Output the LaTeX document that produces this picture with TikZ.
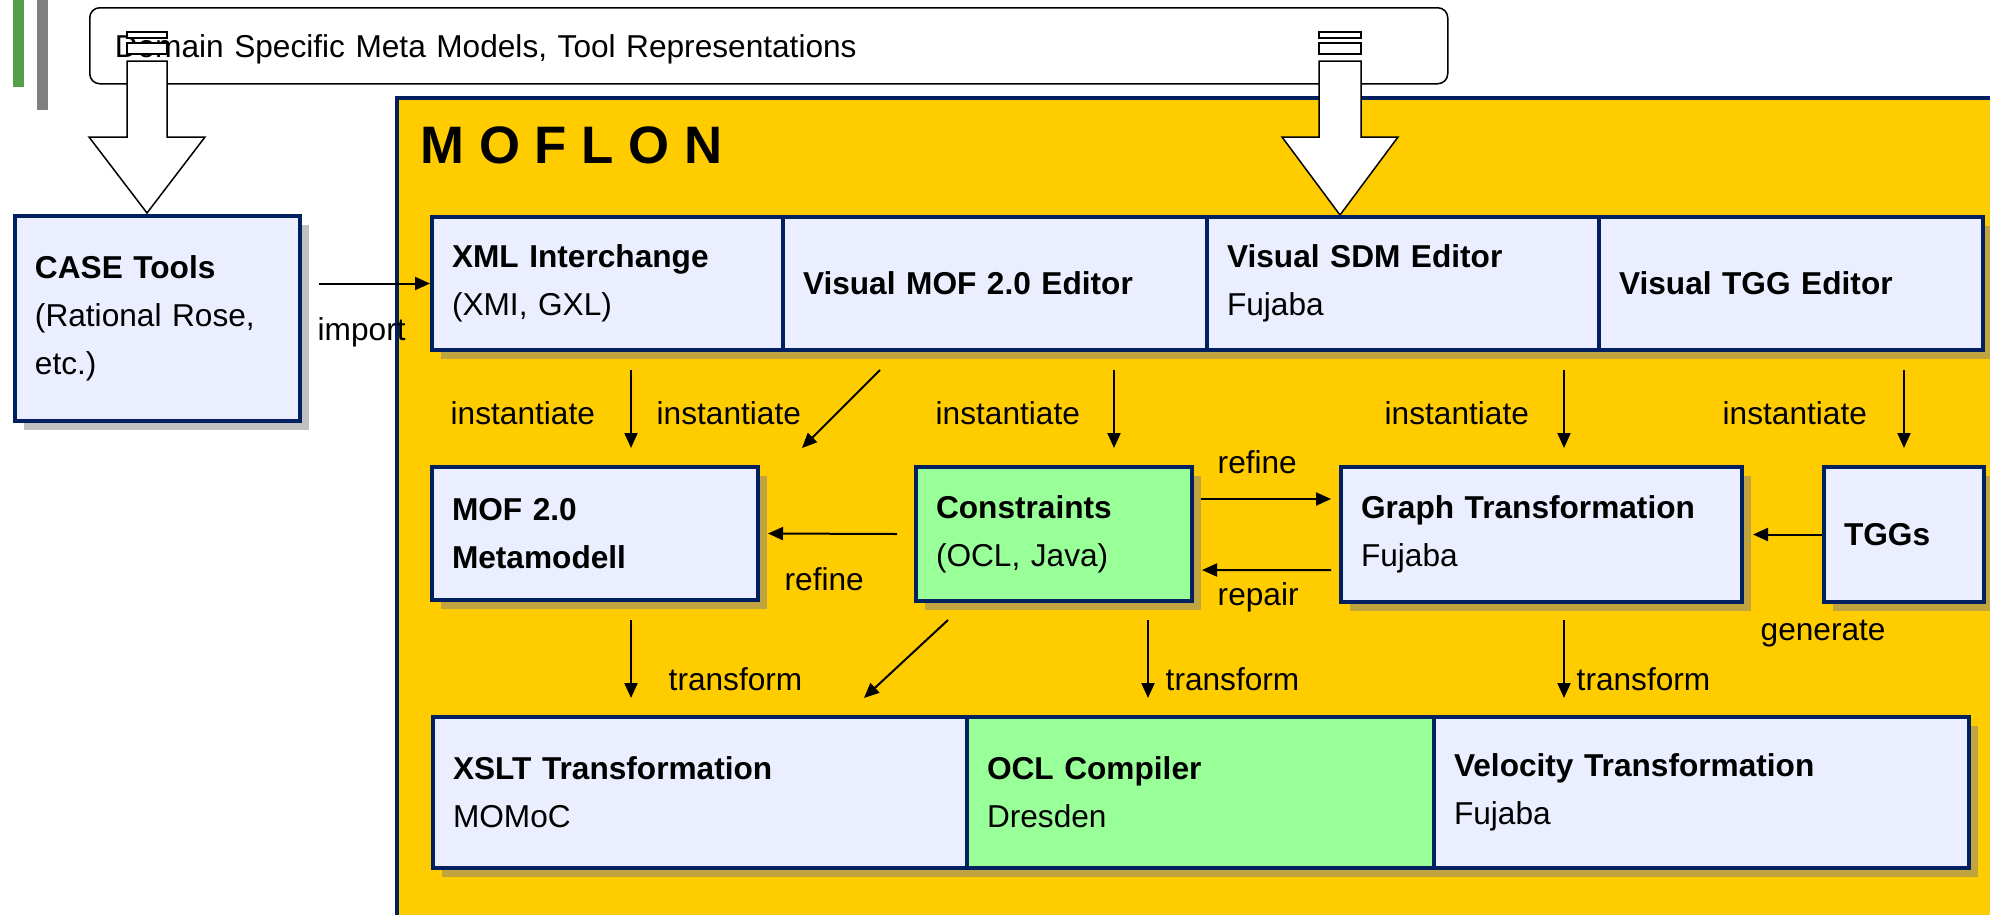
\documentclass[tikz,border=0pt]{standalone}
\usepackage{fontspec}
\setmainfont{Liberation Sans}
\usetikzlibrary{calc, shadows, arrows.meta}

\begin{document}
\begin{tikzpicture}[x=0.1mm, y=-0.1mm, font=\fontsize{9}{13.6}\selectfont,
	box/.style={draw=navyline, line width=0.4mm, fill=boxblue, anchor=north west,
		align=left, inner xsep=2mm, inner ysep=0pt,
		drop shadow={shadow xshift=0.9mm, shadow yshift=-0.9mm, fill=#1, opacity=1}},
	box/.default=shadowyellow,
	arr/.style={-{Triangle[length=1.5mm, width=1.3mm]}, line width=0.2mm},
	blockarrow/.style={draw=black, fill=white, line width=0.15mm},
	lbl/.style={anchor=base west, inner sep=0pt}]
	\definecolor{moflonyellow}{RGB}{255,204,0}
	\definecolor{navyline}{RGB}{0,32,96}
	\definecolor{boxblue}{RGB}{234,238,254}
	\definecolor{constrgreen}{RGB}{153,255,153}
	\definecolor{shadowyellow}{RGB}{192,164,64}
	\definecolor{shadowgray}{RGB}{192,192,192}
	\definecolor{bargreen}{RGB}{84,160,72}
	\useasboundingbox (0,0) rectangle (1990,914);
	\fill[bargreen] (13,0) rectangle (24,87);
	\fill[gray] (37,0) rectangle (48,110);
	\draw[fill=moflonyellow, draw=navyline, line width=0.33mm] (397,98) rectangle (2010,940);
	\node[anchor=base west, inner sep=0pt, font=\fontsize{15}{18}\selectfont\bfseries] (title) at (420,163) {M O F L O N};
	\node[draw, rounded corners=1mm, line width=0.15mm, anchor=north west, minimum height=7.6mm,
		text width=130.8mm, text height=3mm, inner xsep=2.5mm, align=left] (domain) at (89,7) {Domain Specific Meta Models, Tool Representations};
	\draw[blockarrow] (127,61) -- (167,61) -- (167,137) -- (205,137) -- (147,213) -- (89,137) -- (127,137) -- cycle;
	\draw[blockarrow] (127,32) rectangle (167,38) (127,43) rectangle (167,54);
	\draw[blockarrow] (1319,61) -- (1361,61) -- (1361,137) -- (1398,137) -- (1340,215) -- (1282,137) -- (1319,137) -- cycle;
	\draw[blockarrow] (1319,32) rectangle (1361,38) (1319,43) rectangle (1361,54);
	\node[box=shadowgray, text width=24.5mm, minimum height=20.5mm] (case) at (13,214) {\textbf{CASE Tools}\\(Rational Rose,\\etc.)};
	\node[box, text width=31.1mm, minimum height=13.3mm] (xml) at (430,215) {\textbf{XML Interchange}\\(XMI, GXL)};
	\node[box, text width=38.4mm, minimum height=13.3mm] (mofed) at (781,215) {\textbf{Visual MOF 2.0 Editor}};
	\node[box, text width=35.2mm, minimum height=13.3mm] (sdmed) at (1205,215) {\textbf{Visual SDM Editor}\\Fujaba};
	\node[box, text width=34.4mm, minimum height=13.3mm] (tgged) at (1597,215) {\textbf{Visual TGG Editor}};
	\node[box, text width=28.6mm, minimum height=13.3mm] (mof) at (430,465) {\textbf{MOF 2.0}\\\textbf{Metamodell}};
	\node[box, fill=constrgreen, text width=23.6mm, minimum height=13.4mm] (constr) at (914,465) {\textbf{Constraints}\\(OCL, Java)};
	\node[box, text width=36.1mm, minimum height=13.5mm] (graph) at (1339,465) {\textbf{Graph Transformation}\\Fujaba};
	\node[box, text width=12mm, minimum height=13.5mm] (tggs) at (1822,465) {\textbf{TGGs}};
	\node[box, text width=49.4mm, minimum height=15.1mm] (xslt) at (431,715) {\textbf{XSLT Transformation}\\MOMoC};
	\node[box, fill=constrgreen, text width=42.7mm, minimum height=15.1mm] (ocl) at (965,715) {\textbf{OCL Compiler}\\Dresden};
	\node[box, text width=49.5mm, minimum height=15.1mm] (velo) at (1432,715) {\textbf{Velocity Transformation}\\Fujaba};
	\draw[arr] ($(case.east |- xml.west)+(17,0)$) -- (xml.west);
	\draw[arr] ($(xml.south west)+(201,18)$) -- ($(mof.north west)+(201,-17)$);
	\draw[arr] ($(mofed.south west)+(99,18)$) -- ($(mof.north east)+(42,-17)$);
	\draw[arr] ($(mofed.south west)+(333,18)$) -- ($(constr.north west)+(200,-17)$);
	\draw[arr] ($(sdmed.south west)+(359,18)$) -- ($(graph.north west)+(225,-17)$);
	\draw[arr] ($(tgged.south west)+(307,18)$) -- ($(tggs.north west)+(82,-17)$);
	\draw[arr] ($(constr.west)+(-17,0)$) -- ($(mof.east)+(8,0)$);
	\draw[arr] ($(constr.north east)+(7,34)$) -- ($(graph.north west)+(-8,34)$);
	\draw[arr] ($(graph.south west)+(-8,-34)$) -- ($(constr.south east)+(8,-33)$);
	\draw[arr] (tggs.west) -- ($(graph.east)+(9,0)$);
	\draw[arr] ($(mof.south west)+(201,18)$) -- ($(xslt.north west)+(200,-17)$);
	\draw[arr] ($(constr.south west)+(34,17)$) -- ($(xslt.north west)+(433,-17)$);
	\draw[arr] ($(constr.south west)+(234,17)$) -- ($(ocl.north west)+(183,-17)$);
	\draw[arr] ($(graph.south west)+(225,16)$) -- ($(velo.north west)+(132,-17)$);
	\node[lbl] (importlbl) at (317,340) {import};
	\node[lbl] (inst1) at (450,424) {instantiate};
	\node[lbl] (inst2) at (656,424) {instantiate};
	\node[lbl] (inst3) at (935,424) {instantiate};
	\node[lbl] (inst4) at (1384,424) {instantiate};
	\node[lbl] (inst5) at (1722,424) {instantiate};
	\node[lbl] (refine1) at (784,590) {refine};
	\node[lbl] (refine2) at (1217,473) {refine};
	\node[lbl] (repair) at (1217,605) {repair};
	\node[lbl] (generate) at (1760,640) {generate};
	\node[lbl] (trans1) at (668,690) {transform};
	\node[lbl] (trans2) at (1165,690) {transform};
	\node[lbl] (trans3) at (1576,690) {transform};
\end{tikzpicture}
\end{document}
